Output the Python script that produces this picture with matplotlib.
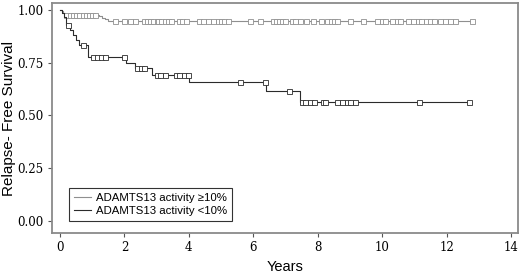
import numpy as np
import matplotlib
matplotlib.use("Agg")
import matplotlib.pyplot as plt

# ---- data ----
hi_times = [0.0, 0.05, 0.10, 0.15, 1.20, 1.30, 1.40, 1.50]
hi_surv = [1.0, 0.993, 0.986, 0.977, 0.970, 0.962, 0.955, 0.948]
hi_end = 12.85
hi_censor = [0.2, 0.3, 0.4, 0.5, 0.6, 0.7, 0.8, 0.9, 1.0, 1.1,
             1.7, 2.0, 2.17, 2.33, 2.6, 2.7, 2.8, 2.9, 3.0, 3.05, 3.15, 3.25, 3.35, 3.45,
             3.7, 3.8, 3.9, 4.3, 4.45, 4.6, 4.75, 4.9, 5.0, 5.1, 5.2, 5.9,
             6.2, 6.6, 6.7, 6.8, 6.9, 7.0, 7.2, 7.3, 7.45, 7.65, 7.85, 8.1,
             8.3, 8.4, 8.5, 8.6, 9.0, 9.4, 9.85, 10.0, 10.1, 10.3, 10.45, 10.55,
             10.8, 10.95, 11.1, 11.2, 11.35, 11.5, 11.6, 11.8, 11.95, 12.1, 12.25, 12.8]

lo_times = [0.0, 0.05, 0.12, 0.20, 0.30, 0.40, 0.50, 0.60, 0.87, 2.05, 2.33, 2.85, 4.0, 6.4, 7.45]
lo_surv = [1.0, 0.985, 0.965, 0.93, 0.905, 0.88, 0.86, 0.836, 0.775, 0.75, 0.727, 0.692, 0.657, 0.614, 0.562]
lo_end = 12.7
lo_censor = [0.25, 0.7, 1.03, 1.15, 1.27, 1.4, 2.0, 2.4, 2.5, 2.6,
             3.0, 3.1, 3.25, 3.6, 3.7, 3.85, 3.98, 5.6, 6.35, 7.1,
             7.5, 7.6, 7.77, 7.9, 8.17, 8.23, 8.6, 8.75, 8.9, 9.0, 9.16, 11.15, 12.7]

labels = ["ADAMTS13 activity \u226510%", "ADAMTS13 activity <10%"]
colors = ["#8f8f8f", "#2b2b2b"]
xticks = [0, 2, 4, 6, 8, 10, 12, 14]
yticks = [0.0, 0.25, 0.5, 0.75, 1.0]

fig = plt.figure(figsize=(5.2, 2.74), dpi=100)
ax = fig.add_axes([52/520, 41/274, 466/520, 230/274])

def km(ax, t, s, end, cens, color, label):
    t = np.array(t); s = np.array(s)
    tt = np.append(t, end); ss = np.append(s, s[-1])
    ax.step(tt, ss, where="post", color=color, lw=0.8, label=label)
    c = np.array(cens)
    idx = np.searchsorted(t, c, side="right") - 1
    ax.plot(c, s[idx], ls="none", marker="s", ms=3.6, mfc="white",
            mec=color, mew=0.6)

km(ax, hi_times, hi_surv, hi_end, hi_censor, colors[0], labels[0])
km(ax, lo_times, lo_surv, lo_end, lo_censor, colors[1], labels[1])

ax.set_xlim(-0.25, 14.22)
ax.set_ylim(-0.057, 1.033)
ax.set_xticks(xticks)
ax.set_yticks(yticks)
ax.set_yticklabels([f"{v:.2f}" for v in yticks])
for lab in ax.get_xticklabels() + ax.get_yticklabels():
    lab.set_family("DejaVu Serif")
    lab.set_fontsize(8.5)
ax.tick_params(axis="both", direction="out", length=3, width=0.8, color="#555555", pad=3)
for sp in ax.spines.values():
    sp.set_color("#8a8a8a")
    sp.set_linewidth(1.3)

ax.set_xlabel("Years", family="Liberation Sans", fontsize=10.5)
ax.xaxis.set_label_coords(0.5, -27/230)
ax.set_ylabel("Relapse- Free Survival", family="Liberation Sans", fontsize=11)
ax.yaxis.set_label_coords(-36/466, 0.5)

leg = ax.legend(loc="lower left", bbox_to_anchor=(0.036, 0.052), prop={"family": "Liberation Sans", "size": 8.2},
                frameon=True, fancybox=False, edgecolor="black", handlelength=1.5,
                handletextpad=0.45, labelspacing=0.25, borderpad=0.45, borderaxespad=0)
leg.get_frame().set_linewidth(0.8)

fig.savefig("out.png", dpi=100)
